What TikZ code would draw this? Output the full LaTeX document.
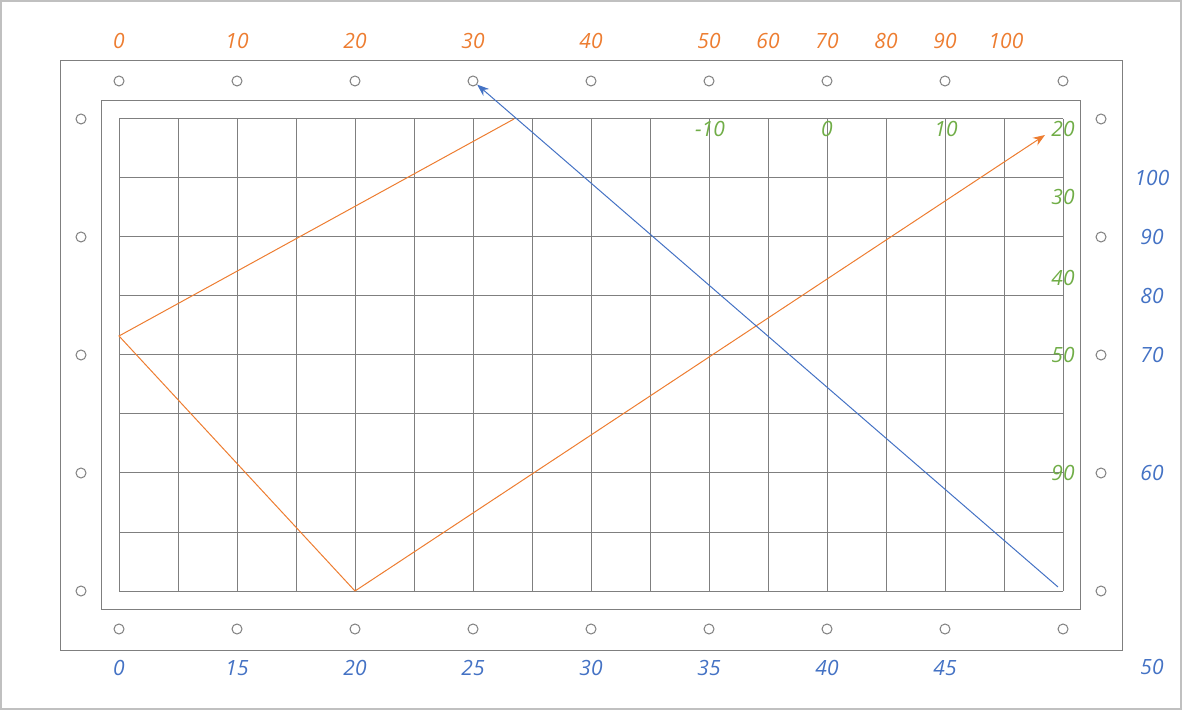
\documentclass[tikz,border=0pt]{standalone}
\usepackage{fontspec}
\setmainfont{Open Sans}
\usetikzlibrary{arrows.meta}
\definecolor{gridgray}{HTML}{7F7F7F}
\definecolor{framegray}{HTML}{C0C0C0}
\definecolor{axorange}{HTML}{ED7D31}
\definecolor{axblue}{HTML}{4472C4}
\definecolor{axgreen}{HTML}{70AD47}
\tikzset{
  board/.style={draw=gridgray,line width=0.5pt},
  hole/.style={circle,draw=gridgray,line width=0.5pt,minimum size=5pt,inner sep=0pt},
  lbl/.style={font=\fontsize{10.5}{12}\selectfont\itshape,inner sep=0pt},
  toplbl/.style={lbl,text=axorange},
  botlbl/.style={lbl,text=axblue},
  scalelbl/.style={lbl,text=axgreen},
  orangeline/.style={draw=axorange,line width=0.5pt},
  blueline/.style={draw=axblue,line width=0.5pt}
}

\begin{document}
\begin{tikzpicture}[x=0.5pt,y=-0.5pt]
\useasboundingbox (0,0) rectangle (1182,710);
\draw[framegray,line width=1pt] (1,1) rectangle (1181,709);

% frames
\draw[board] (60,61) rectangle (1122,650);
\draw[board] (101,101) rectangle (1080,609);

% grid
\foreach \i in {0,...,16}
  \draw[board] ({119+59*\i},119) -- ({119+59*\i},591);
\foreach \j in {0,...,8}
  \draw[board] (119,{119+59*\j}) -- (1063,{119+59*\j});

% holes
\foreach \i in {0,...,8} {
  \node[hole] (t\i) at ({119+118*\i},81) {};
  \node[hole] (b\i) at ({119+118*\i},629) {};
}
\foreach \j in {0,...,4} {
  \node[hole] (l\j) at (81,{119+118*\j}) {};
  \node[hole] (r\j) at (1101,{119+118*\j}) {};
}

% top scale
\node[toplbl] (top0) at (119,41) {0};
\node[toplbl] (top10) at (237,41) {10};
\node[toplbl] (top20) at (355,41) {20};
\node[toplbl] (top30) at (473,41) {30};
\node[toplbl] (top40) at (591,41) {40};
\node[toplbl] (top50) at (709,41) {50};
\node[toplbl] (top60) at (768,41) {60};
\node[toplbl] (top70) at (827,41) {70};
\node[toplbl] (top80) at (886,41) {80};
\node[toplbl] (top90) at (945,41) {90};
\node[toplbl] (top100) at (1006,41) {100};

% bottom scale
\node[botlbl] (bot0) at (119,668) {0};
\node[botlbl] (bot15) at (237,668) {15};
\node[botlbl] (bot20) at (355,668) {20};
\node[botlbl] (bot25) at (473,668) {25};
\node[botlbl] (bot30) at (591,668) {30};
\node[botlbl] (bot35) at (709,668) {35};
\node[botlbl] (bot40) at (827,668) {40};
\node[botlbl] (bot45) at (945,668) {45};
\node[botlbl] (bot50) at (1152,667) {50};

% right scale
\node[botlbl] (rgt100) at (1152,178) {100};
\node[botlbl] (rgt90) at (1152,237) {90};
\node[botlbl] (rgt80) at (1152,296) {80};
\node[botlbl] (rgt70) at (1152,355) {70};
\node[botlbl] (rgt60) at (1152,473) {60};

% green scale
\node[scalelbl] (gm10) at (710,129) {-10};
\node[scalelbl] (g0) at (827,129) {0};
\node[scalelbl] (g10) at (946,129) {10};
\node[scalelbl] (g20) at (1063,129) {20};
\node[scalelbl] (g30) at (1063,197) {30};
\node[scalelbl] (g40) at (1063,278) {40};
\node[scalelbl] (g50) at (1063,355) {50};
\node[scalelbl] (g90) at (1063,473) {90};

% traces
\coordinate (otop) at (514,119);
\coordinate (oleft) at (119,336);
\coordinate (obot) at (355,591);
\coordinate (oend) at (1045,135);
\coordinate (bstart) at (1058,587);
\draw[orangeline,-{Stealth[length=6pt,width=4.5pt]}] (otop) -- (oleft) -- (obot) -- (oend);
\draw[blueline,-{Stealth[length=6pt,width=4.5pt]}] (bstart) -- (t3);
\end{tikzpicture}
\end{document}
